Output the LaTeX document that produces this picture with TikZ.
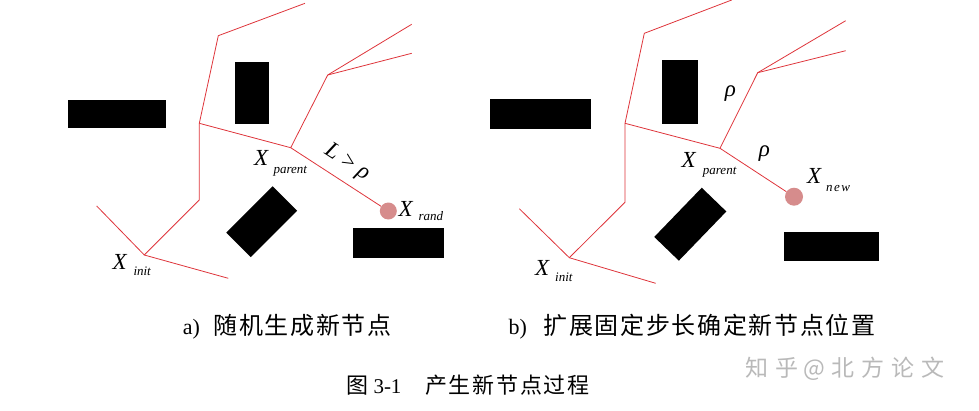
\documentclass[tikz,border=0pt]{standalone}
\usepackage{fontspec}
\setmainfont{Liberation Serif}
\newfontfamily\cjk[LetterSpace=7]{Noto Sans CJK SC}
\newfontfamily\cjkb[LetterSpace=8]{Noto Sans CJK SC}
\newfontfamily\wmfont[LetterSpace=30]{Noto Sans CJK SC}
\definecolor{treered}{RGB}{222,52,58}
\definecolor{ptpink}{RGB}{214,140,140}
\definecolor{wmgray}{RGB}{185,185,185}
\tikzset{
  tree/.style={draw=treered, line width=0.8pt},
  obs/.style={fill=black, draw=none, inner sep=0pt},
  sample/.style={circle, fill=ptpink, draw=none, inner sep=0pt, minimum size=17pt},
  xlab/.style={font=\fontsize{23}{23}\selectfont\itshape, inner sep=0pt, anchor=base west},
  sublab/.style={font=\fontsize{13}{13}\selectfont\itshape, inner sep=0pt, anchor=base west},
  rholab/.style={font=\fontsize{23}{23}\selectfont\itshape, inner sep=0pt},
  lattext/.style={font=\fontsize{22}{22}\selectfont, inner sep=0pt, anchor=base west},
  cjktext/.style={font=\fontsize{24}{24}\selectfont\cjk, inner sep=0pt, anchor=base west},
  wmtext/.style={font=\fontsize{23}{23}\selectfont\wmfont, text=wmgray, inner sep=0pt, anchor=base west},
}
\begin{document}
\begin{tikzpicture}[x=1pt,y=-1pt]
\useasboundingbox (0,0) rectangle (979,410);
% ---------- panel a ----------
\fill (67.7,100) rectangle (165.7,128.3);
\fill (234.7,62) rectangle (269.3,123.7);
\fill (353.3,228.3) rectangle (444.3,257.7);
\node[obs, minimum width=65.5pt, minimum height=34.7pt, rotate=45] (aob) at (261.7,221.7) {};
\coordinate (ai) at (144.3,255);
\coordinate (a1) at (96.7,206);
\coordinate (a2) at (228.3,278.3);
\coordinate (a3) at (199.3,200);
\coordinate (a4) at (199.3,123.3);
\coordinate (a5) at (218.3,35.7);
\coordinate (a6) at (305,3.3);
\coordinate (ap) at (290.7,147.7);
\coordinate (a7) at (327.7,75);
\coordinate (a8) at (411.7,24.3);
\coordinate (a9) at (411.7,53.3);
\draw[tree] (ai) -- (a1);
\draw[tree] (ai) -- (a2);
\draw[tree] (ai) -- (a3) -- (a4) -- (a5) -- (a6);
\draw[tree] (a4) -- (ap);
\draw[tree] (ap) -- (a7) -- (a8);
\draw[tree] (a7) -- (a9);
\node[sample] (arand) at (388.3,211) {};
\draw[tree] (ap) -- (arand);
\node[xlab] (aXp) at (254,165.7) {X};
\node[sublab] (aXps) at (273.3,173.3) {parent};
\node[xlab] (aXr) at (398.5,216) {X};
\node[sublab] (aXrs) at (418.3,220) {rand};
\node[xlab] (aXi) at (112.5,269.3) {X};
\node[sublab] (aXis) at (133.3,275) {init};
\node[rholab, rotate=-33] (aL) at (347,163) {L\hspace{5pt}>\hspace{5pt}ρ};
% ---------- panel b ----------
\fill (490,99) rectangle (591,128.7);
\fill (662.3,60.3) rectangle (698,123.7);
\fill (784.3,232.3) rectangle (879,260.7);
\node[obs, minimum width=68.4pt, minimum height=34.2pt, rotate=46] (bob) at (690.3,224.2) {};
\coordinate (bi) at (569.3,257.7);
\coordinate (b1) at (519.3,208.7);
\coordinate (b2) at (655.7,283.3);
\coordinate (b3) at (625,202.3);
\coordinate (b4) at (625,123.3);
\coordinate (b5) at (644.3,33.3);
\coordinate (b6) at (731.7,0);
\coordinate (bp) at (720,148.3);
\coordinate (b7) at (757.7,72.7);
\coordinate (b8) at (845.7,20.7);
\coordinate (b9) at (845.7,50.7);
\draw[tree] (bi) -- (b1);
\draw[tree] (bi) -- (b2);
\draw[tree] (bi) -- (b3) -- (b4) -- (b5) -- (b6);
\draw[tree] (b4) -- (bp);
\draw[tree] (bp) -- (b7) -- (b8);
\draw[tree] (b7) -- (b9);
\node[sample, minimum size=18pt] (bnew) at (794,196.7) {};
\draw[tree] (bp) -- (bnew);
\node[xlab] (bXp) at (681.5,167.7) {X};
\node[sublab] (bXps) at (702.7,174.3) {parent};
\node[xlab] (bXn) at (807,183.3) {X};
\node[sublab] (bXns) at (826,191) {n\hspace{1.5pt}e\hspace{1.5pt}w};
\node[xlab] (bXi) at (535,275) {X};
\node[sublab] (bXis) at (555,281) {init};
\node[rholab] (brho1) at (730.5,94) {ρ};
\node[rholab] (brho2) at (764.3,153.7) {ρ};
% ---------- captions ----------
\node[lattext] (capal) at (182.7,334.5) {a)};
\node[cjktext] (capa) at (213.3,334.5) {随机生成新节点};
\node[lattext] (capbl) at (508.3,334.5) {b)};
\node[cjktext] (capb) at (543.3,334.5) {扩展固定步长确定新节点位置};
\node[cjktext, font=\fontsize{22}{22}\selectfont\cjkb] (capf1) at (346,393) {图};
\node[lattext, font=\fontsize{21}{21}\selectfont] (capf2) at (373.3,393) {3-1};
\node[cjktext, font=\fontsize{22}{22}\selectfont\cjkb] (capf3) at (425,393) {产生新节点过程};
\node[wmtext] (wm1) at (745,376.5) {知乎};
\node[wmtext] (wm2) at (803,376.5) {@北方论文};
\end{tikzpicture}
\end{document}
